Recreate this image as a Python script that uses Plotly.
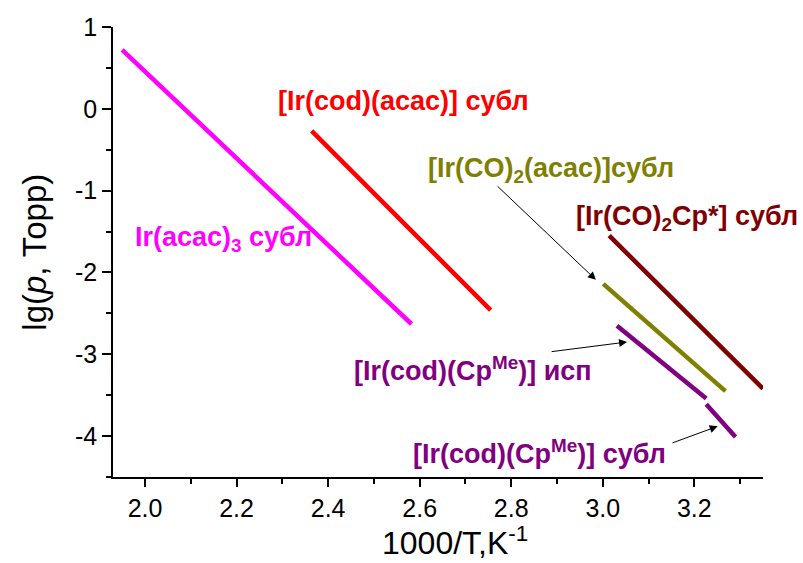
import plotly.graph_objects as go

# Vapour pressure fits, lg(p, Torr) vs 1000/T: endpoints of each fitted line
x_ir_acac3 = [1.950, 2.582]
y_ir_acac3 = [0.72, -2.63]

x_cod_acac = [2.364, 2.755]
y_cod_acac = [-0.27, -2.46]

x_co2_acac = [3.001, 3.268]
y_co2_acac = [-2.14, -3.45]

x_co2_cp = [3.014, 3.350]
y_co2_cp = [-1.55, -3.42]

x_cod_cpme_liq = [3.031, 3.226]
y_cod_cpme_liq = [-2.65, -3.54]

x_cod_cpme_sub = [3.226, 3.290]
y_cod_cpme_sub = [-3.61, -4.01]

series = [
    (x_ir_acac3, y_ir_acac3, "#FF00FF"),
    (x_cod_acac, y_cod_acac, "#FF0000"),
    (x_co2_acac, y_co2_acac, "#808000"),
    (x_co2_cp, y_co2_cp, "#800000"),
    (x_cod_cpme_liq, y_cod_cpme_liq, "#800080"),
    (x_cod_cpme_sub, y_cod_cpme_sub, "#800080"),
]

FONT = "Liberation Sans, Arial, sans-serif"

fig = go.Figure()
for xs, ys, col in series:
    fig.add_trace(go.Scatter(x=xs, y=ys, mode="lines",
                             line=dict(color=col, width=4.5),
                             showlegend=False, hoverinfo="skip"))

# Series labels (left edge, vertical centre in data units)
labels = [
    ("Ir(acac)<sub>3</sub> субл", 1.974, -1.59, "#FF00FF"),
    ("[Ir(cod)(acac)] субл", 2.287, 0.09, "#FF0000"),
    ("[Ir(CO)<sub>2</sub>(acac)]субл", 2.613, -0.75, "#808000"),
    ("[Ir(CO)<sub>2</sub>Cp*] субл", 2.938, -1.33, "#800000"),
    ("[Ir(cod)(Cp<sup>Me</sup>)] исп", 2.453, -3.18, "#800080"),
    ("[Ir(cod)(Cp<sup>Me</sup>)] субл", 2.582, -4.19, "#800080"),
]
for text, lx, ly, col in labels:
    fig.add_annotation(x=lx, y=ly, xref="x", yref="y", text="<b>" + text + "</b>",
                       showarrow=False, xanchor="left", yanchor="middle",
                       font=dict(family=FONT, size=27, color=col))

# Pointer arrows: (tail x, tail y, head x, head y)
arrows = [
    (2.767, -0.93, 2.985, -2.09),
    (2.885, -2.97, 3.053, -2.85),
    (3.149, -4.09, 3.251, -3.88),
]
for tx, ty, hx, hy in arrows:
    fig.add_annotation(x=hx, y=hy, ax=tx, ay=ty, xref="x", yref="y",
                       axref="x", ayref="y", text="", showarrow=True,
                       arrowhead=2, arrowsize=1.6, arrowwidth=1,
                       arrowcolor="black")

# Axis titles
fig.add_annotation(x=0.526, y=-0.143, xref="paper", yref="paper",
                   text="1000/T,K<sup>-1</sup>", showarrow=False,
                   xanchor="center", yanchor="middle",
                   font=dict(family=FONT, size=32, color="black"))
fig.add_annotation(x=-0.122, y=0.5, xref="paper", yref="paper",
                   text="lg(<i>p</i>, Торр)", showarrow=False, textangle=-90,
                   xanchor="center", yanchor="middle",
                   font=dict(family=FONT, size=33, color="black"))

axis_common = dict(showline=True, linecolor="black", linewidth=1.5,
                   showgrid=False, zeroline=False, ticks="outside",
                   tickcolor="black", tickwidth=1.5,
                   tickfont=dict(family=FONT, size=25, color="black"))

fig.update_xaxes(range=[1.93, 3.35], tickmode="array",
                 tickvals=[2.0, 2.2, 2.4, 2.6, 2.8, 3.0, 3.2],
                 ticktext=["2.0", "2.2", "2.4", "2.6", "2.8", "3.0", "3.2"],
                 ticklen=8,
                 minor=dict(ticks="outside", tickvals=[2.1, 2.3, 2.5, 2.7, 2.9, 3.1, 3.3],
                            ticklen=5, tickcolor="black", tickwidth=1.5),
                 **axis_common)
fig.update_yaxes(range=[-4.5, 1], tickmode="array",
                 tickvals=[-4, -3, -2, -1, 0, 1],
                 ticktext=["-4", "-3", "-2", "-1", "0", "1"],
                 ticklen=9,
                 minor=dict(ticks="outside", tickvals=[-4.5, -3.5, -2.5, -1.5, -0.5, 0.5],
                            ticklen=5, tickcolor="black", tickwidth=1.5),
                 **axis_common)

fig.update_layout(width=803, height=563,
                  margin=dict(l=113, r=40, t=27, b=86),
                  plot_bgcolor="white", paper_bgcolor="white")

fig.write_html("out.html")
